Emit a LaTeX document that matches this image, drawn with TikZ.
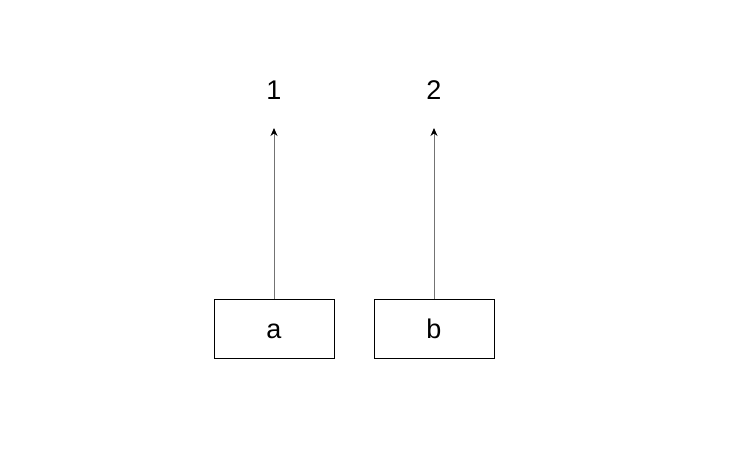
\documentclass[tikz,border=0pt]{standalone}
\usepackage{fontspec}
\setmainfont{Liberation Sans}
\usetikzlibrary{arrows.meta, positioning}

\begin{document}
\begin{tikzpicture}[x=1pt, y=-1pt,
    box/.style={draw=black, line width=1pt, minimum width=120pt, minimum height=59pt, inner sep=0pt,
      text height=20pt, text depth=0pt, font=\fontsize{27}{32}\selectfont},
    num/.style={inner sep=0pt, font=\fontsize{27}{32}\selectfont},
    link/.style={draw=black!55, line width=1pt, -{Stealth[length=8pt, width=7pt, black]}}]
    \useasboundingbox (0, 0) rectangle (729, 453);
    \node[box] (boxA) at (274, 328.5) {a};
    \node[box, right=39pt of boxA] (boxB) {b};
    \node[num] (numA) at (274, 90) {1};
    \node[num] (numB) at (434, 90) {2};
    \coordinate (tipA) at (274, 128);
    \coordinate (tipB) at (434, 128);
    \draw[link] (boxA.north) -- (tipA);
    \draw[link] (boxB.north) -- (tipB);
\end{tikzpicture}
\end{document}
